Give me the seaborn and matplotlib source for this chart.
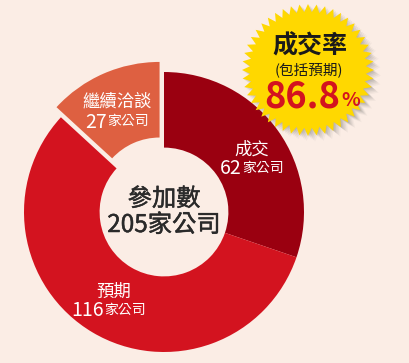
import numpy as np
import matplotlib
matplotlib.use("Agg")
import matplotlib.pyplot as plt
import matplotlib.patheffects as pe
import seaborn as sns
from matplotlib.patches import Polygon

sns.set_theme(style="white")
plt.rcParams['font.family'] = ['Noto Sans CJK TC', 'DejaVu Sans']

# data
categories = ['成交', '預期', '繼續洽談']
counts = [62, 116, 27]
total_label = '參加數'
rate_label = '86.8'

bg = '#FBEDE5'
colors = ['#9A0010', '#D3131F', '#DE6041']

fig = plt.figure(figsize=(4.09, 3.63), dpi=100, facecolor=bg)
ax = fig.add_axes([0, 0, 1, 1])
ax.set_facecolor(bg)
H = 363

cx, cy, R = 164, H - 212, 140
# explode is in data units here (pie does not scale it by radius)
ax.pie(counts, colors=colors, startangle=90, counterclock=False,
       center=(cx, cy), radius=R, explode=[0, 0, 11],
       wedgeprops=dict(width=R * 0.54, linewidth=0), frame=True)
ax.set_xlim(0, 409)
ax.set_ylim(0, H)
ax.set_aspect('equal')
ax.axis('off')

# labels
def label(x, y, name, n, y2):
    ax.text(x, H - y, name, color='white', fontsize=12.5, ha='center', va='center')
    ax.text(x - 10, H - y2, str(n), color='white', fontsize=14, ha='right', va='center')
    ax.text(x - 10, H - y2 + 1, '家公司', color='white', fontsize=10, ha='left', va='center')

label(252, 150, categories[0], counts[0], 169)
label(114, 292, categories[1], counts[1], 311)
label(117, 102, categories[2], counts[2], 122)

thick = [pe.withStroke(linewidth=0.35, foreground='#2a2a2a')]
ax.text(cx, H - 199, total_label, fontsize=17.5, ha='center', va='center', color='#2a2a2a', path_effects=thick)
ax.text(cx, H - 225, f'{sum(counts)}家公司', fontsize=17.5, ha='center', va='center', color='#2a2a2a', path_effects=thick)

# starburst
sx, sy = 308, H - 70
n = 48
ang = np.linspace(0, 2 * np.pi, 2 * n, endpoint=False)
rad = np.where(np.arange(2 * n) % 2 == 0, 66, 58)
pts = np.column_stack([sx + rad * np.cos(ang), sy + rad * np.sin(ang)])
for off, a in [(7, 0.05), (5.5, 0.07), (4, 0.09), (2.5, 0.11), (1, 0.12)]:
    ax.add_patch(Polygon(pts + [off, -off * 0.8], closed=True, fc='#555555', ec='none', alpha=a))
ax.add_patch(Polygon(pts, closed=True, fc='#FFD800', ec='none'))

ax.text(310, H - 46, '成交率', fontsize=18, fontweight='bold', ha='center', va='center', color='#1a1a1a')
ax.text(309, H - 70, '(包括預期)', fontsize=10.5, ha='center', va='center', color='#1a1a1a')
ax.text(340, H - 97, rate_label, fontsize=26, fontweight='bold', ha='right', va='center', color='#D3131F')
ax.text(341, H - 101, '%', fontsize=14, fontweight='bold', ha='left', va='center', color='#D3131F')

fig.savefig('out.png', dpi=100, facecolor=bg)
